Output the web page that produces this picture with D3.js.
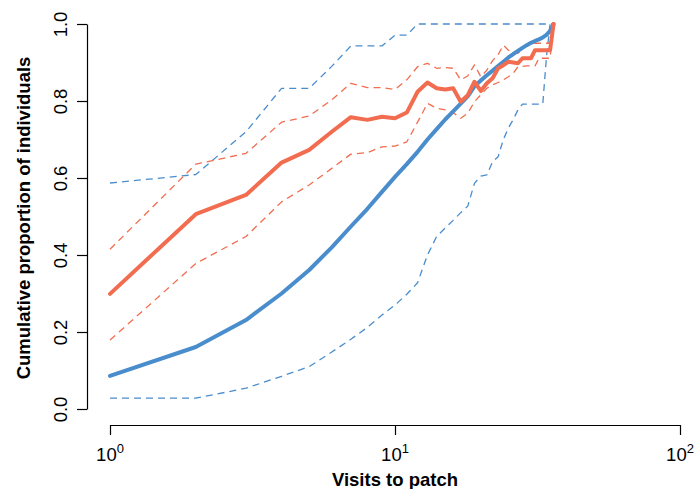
<!DOCTYPE html>
<html>
<head>
<meta charset="utf-8">
<script src="https://cdn.jsdelivr.net/npm/d3@7"></script>
<style>
  body { margin: 0; background: #fff; }
  text { font-family: "Liberation Sans", Arial, sans-serif; fill: #000; }
</style>
</head>
<body>
<div id="chart"></div>
<script>
// Data_____________________________________________
const visits = [1, 2, 3, 4, 5, 6, 7, 8, 9, 10, 11, 12, 13, 14, 15, 16, 17, 18,
                19, 20, 21, 22, 23, 24, 25, 26, 27, 28, 29, 30, 31, 32, 33, 34, 35, 36];

const blueMean = [0.086, 0.161, 0.231, 0.300, 0.361, 0.420, 0.474, 0.520, 0.564, 0.603, 0.636, 0.668,
                  0.700, 0.727, 0.752, 0.773, 0.793, 0.812, 0.838, 0.853, 0.867, 0.879, 0.891, 0.902,
                  0.913, 0.922, 0.930, 0.938, 0.945, 0.951, 0.956, 0.960, 0.965, 0.972, 0.982, 1.0];
const blueUpper = [0.587, 0.609, 0.720, 0.833, 0.833, 0.890, 0.943, 0.943, 0.943, 0.971, 0.971, 1.0,
                   1.0, 1.0, 1.0, 1.0, 1.0, 1.0, 1.0, 1.0, 1.0, 1.0, 1.0, 1.0,
                   1.0, 1.0, 1.0, 1.0, 1.0, 1.0, 1.0, 1.0, 1.0, 1.0, 1.0, 1.0];
const blueLower = [0.028, 0.028, 0.054, 0.085, 0.110, 0.148, 0.181, 0.212, 0.244, 0.270, 0.298, 0.328,
                   0.400, 0.448, 0.470, 0.490, 0.510, 0.527, 0.586, 0.605, 0.608, 0.642, 0.655, 0.700,
                   0.730, 0.752, 0.777, 0.792, 0.792, 0.792, 0.792, 0.792, 0.792, 0.915, 1.0, 1.0];

const redMean = [0.299, 0.506, 0.556, 0.640, 0.673, 0.720, 0.758, 0.751, 0.759, 0.755, 0.770, 0.824,
                 0.848, 0.833, 0.830, 0.833, 0.798, 0.815, 0.850, 0.826, 0.846, 0.859, 0.885, 0.893,
                 0.902, 0.900, 0.898, 0.911, 0.911, 0.911, 0.932, 0.932, 0.932, 0.932, 0.932, 1.0];
const redUpper = [0.415, 0.636, 0.664, 0.745, 0.761, 0.803, 0.846, 0.835, 0.835, 0.830, 0.855, 0.889,
                  0.898, 0.885, 0.887, 0.885, 0.855, 0.865, 0.894, 0.863, 0.880, 0.905, 0.920, 0.945,
                  0.932, 0.924, 0.924, 0.935, 0.945, 0.950, 0.950, 0.950, 0.950, 0.950, 0.950, 1.0];
const redLower = [0.179, 0.378, 0.448, 0.538, 0.582, 0.625, 0.662, 0.666, 0.681, 0.683, 0.694, 0.745,
                  0.794, 0.781, 0.777, 0.770, 0.755, 0.768, 0.798, 0.816, 0.833, 0.842, 0.848, 0.855,
                  0.863, 0.872, 0.889, 0.890, 0.891, 0.891, 0.891, 0.911, 0.911, 0.911, 0.911, 1.0];

const yTicks = [0, 0.2, 0.4, 0.6, 0.8, 1.0];
const xTickExps = [0, 1, 2];

// Layout___________________________________________
const width = 695;
const height = 489;
const blue = '#4a8dcc';
const red = '#f26d50';

const svg = d3.select('#chart')
    .append('svg')
    .attr('width', width)
    .attr('height', height);

const xScale = d3.scaleLog()
    .domain([1, 100])
    .range([110, 680]);
const yScale = d3.scaleLinear()
    .domain([0, 1])
    .range([409, 24]);

// Axes_____________________________________________
const yAxis = d3.axisLeft(yScale)
    .tickValues(yTicks)
    .tickSize(10)
    .tickSizeOuter(0)
    .tickFormat(d3.format('.1f'));
const gy = svg.append('g')
    .attr('transform', 'translate(87, 0)')
    .call(yAxis);
gy.select('.domain').attr('stroke', '#000').attr('stroke-width', 1.2);
gy.selectAll('.tick line').attr('stroke', '#000').attr('stroke-width', 1.2);
gy.selectAll('.tick text')
    .attr('x', 0)
    .attr('dy', 0)
    .attr('text-anchor', 'middle')
    .attr('transform', 'translate(-20, 0) rotate(-90)')
    .style('font-size', '18.5px')
    .style('font-family', '"Liberation Sans", Arial, sans-serif');

const xAxis = d3.axisBottom(xScale)
    .tickValues(xTickExps.map(e => Math.pow(10, e)))
    .tickSize(10)
    .tickSizeOuter(0)
    .tickFormat('');
const gx = svg.append('g')
    .attr('transform', 'translate(0, 425)')
    .call(xAxis);
gx.select('.domain').attr('stroke', '#000').attr('stroke-width', 1.2);
gx.selectAll('.tick line').attr('stroke', '#000').attr('stroke-width', 1.2);

// 10^n labels
const xl = svg.append('g')
    .selectAll('text')
    .data(xTickExps)
    .enter()
    .append('text')
    .attr('x', d => xScale(Math.pow(10, d)))
    .attr('y', 461)
    .attr('text-anchor', 'middle')
    .style('font-size', '18.5px');
xl.append('tspan').text('10');
xl.append('tspan')
    .attr('dy', -8)
    .style('font-size', '13px')
    .text(d => d);

// Titles
svg.append('text')
    .attr('x', 395)
    .attr('y', 486)
    .attr('text-anchor', 'middle')
    .style('font-size', '18.5px')
    .style('font-weight', 'bold')
    .text('Visits to patch');

svg.append('text')
    .attr('transform', 'translate(30, 218) rotate(-90)')
    .attr('text-anchor', 'middle')
    .style('font-size', '18.5px')
    .style('font-weight', 'bold')
    .text('Cumulative proportion of individuals');

// Lines____________________________________________
const line = d3.line()
    .x(d => xScale(d[0]))
    .y(d => yScale(d[1]));

const series = [
    {values: blueUpper, color: blue, width: 1.3, dash: '7,5'},
    {values: blueLower, color: blue, width: 1.3, dash: '7,5'},
    {values: redUpper, color: red, width: 1.3, dash: '7,5'},
    {values: redLower, color: red, width: 1.3, dash: '7,5'},
    {values: blueMean, color: blue, width: 4, dash: null},
    {values: redMean, color: red, width: 4, dash: null}
];

svg.append('g')
    .selectAll('path')
    .data(series)
    .enter()
    .append('path')
    .attr('d', s => line(visits.map((v, i) => [v, s.values[i]])))
    .attr('fill', 'none')
    .attr('stroke', s => s.color)
    .attr('stroke-width', s => s.width)
    .attr('stroke-dasharray', s => s.dash)
    .attr('stroke-linejoin', 'round')
    .attr('stroke-linecap', s => s.dash ? 'butt' : 'round');
</script>
</body>
</html>
